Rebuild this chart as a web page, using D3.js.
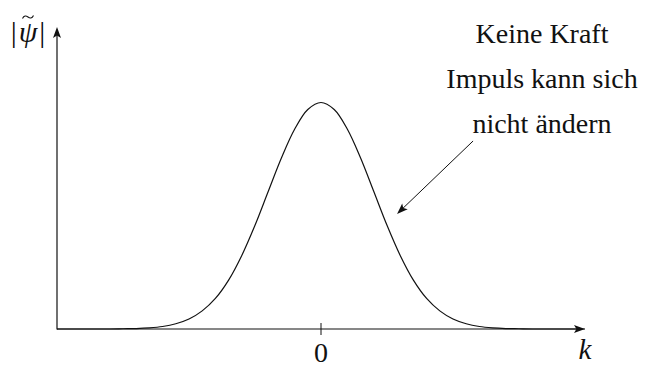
<!DOCTYPE html>
<html>
<head>
<meta charset="utf-8">
<script src="https://cdn.jsdelivr.net/npm/d3@7"></script>
<style>
  html, body { margin: 0; padding: 0; background: #fff; }
  svg { display: block; }
</style>
</head>
<body>
<svg id="chart" width="653" height="369"></svg>
<script>
// Momentum-space amplitude |psi~(k)| sampled along k
const kValues = [-5, -4.75, -4.5, -4.25, -4, -3.75, -3.5, -3.25, -3, -2.75, -2.5, -2.25, -2, -1.75, -1.5, -1.25, -1, -0.75, -0.5, -0.25,
                 0, 0.25, 0.5, 0.75, 1, 1.25, 1.5, 1.75, 2, 2.25, 2.5, 2.75, 3, 3.25, 3.5, 3.75, 4, 4.25, 4.5, 4.75, 5];
const amplitude = [0.000, 0.000, 0.000, 0.000, 0.000, 0.001, 0.002, 0.005, 0.011, 0.023, 0.044, 0.080, 0.135, 0.216, 0.325, 0.458, 0.607, 0.755, 0.882, 0.969,
                   1.000, 0.969, 0.882, 0.755, 0.607, 0.458, 0.325, 0.216, 0.135, 0.080, 0.044, 0.023, 0.011, 0.005, 0.002, 0.001, 0.000, 0.000, 0.000, 0.000, 0.000];
const tickValues = [0];
const tickLabels = ["0"];
const noteLines = ["Keine Kraft", "Impuls kann sich", "nicht ändern"];
// annotation arrow, in data units: [k, amplitude]
const arrowFrom = [2.88, 0.83];
const arrowTo = [1.44, 0.508];

const SERIF = "Liberation Serif";
const INK = "#111";

const svg = d3.select("#chart");
const x = d3.scaleLinear().domain([-5, 5]).range([57, 585]);
const y = d3.scaleLinear().domain([0, 4 / 3]).range([329, 27]);

function arrowHead(g, tipX, tipY, angle, len, half) {
  g.append("path")
    .attr("d", `M0,0 L${-len},${-half} L${-len * 0.78},0 L${-len},${half} Z`)
    .attr("transform", `translate(${tipX},${tipY}) rotate(${angle})`)
    .attr("fill", INK);
}

const axes = svg.append("g");
// horizontal k axis
axes.append("line")
  .attr("x1", x(-5)).attr("x2", x(5) - 6)
  .attr("y1", y(0)).attr("y2", y(0))
  .attr("stroke", INK).attr("stroke-width", 1.2);
arrowHead(axes, x(5), y(0), 0, 11, 4);
// vertical amplitude axis
axes.append("line")
  .attr("x1", x(-5)).attr("x2", x(-5))
  .attr("y1", y(0) + 0.6).attr("y2", y(4 / 3) + 6)
  .attr("stroke", INK).attr("stroke-width", 1.2);
arrowHead(axes, x(-5), y(4 / 3), -90, 11, 4);

// ticks
const ticks = svg.append("g");
tickValues.forEach((t, i) => {
  ticks.append("line")
    .attr("x1", x(t)).attr("x2", x(t))
    .attr("y1", y(0) - 6).attr("y2", y(0) + 6)
    .attr("stroke", INK).attr("stroke-width", 1);
  ticks.append("text")
    .attr("font-family", SERIF).attr("font-size", 28).attr("fill", INK)
    .attr("x", x(t)).attr("y", 362)
    .attr("text-anchor", "middle")
    .text(tickLabels[i]);
});

// axis labels
svg.append("text")
  .attr("font-family", SERIF).attr("font-style", "italic").attr("font-size", 29).attr("fill", INK)
  .attr("x", x(5)).attr("y", 359)
  .attr("text-anchor", "middle")
  .text("k");

const yLabel = svg.append("text")
  .attr("font-family", SERIF).attr("font-size", 30).attr("fill", INK)
  .attr("x", 28).attr("y", 42)
  .attr("text-anchor", "middle");
yLabel.append("tspan").text("|");
yLabel.append("tspan").attr("font-style", "italic").attr("dx", 2).text("ψ");
yLabel.append("tspan").attr("dx", 2).text("|");
// tilde accent over psi
svg.append("path")
  .attr("d", "M22.5,18.5 C24,15.5 26,15.5 28,17 C30,18.5 32,18.5 33.5,15.5")
  .attr("fill", "none").attr("stroke", INK).attr("stroke-width", 1.1);

// the amplitude curve
const line = d3.line()
  .x((d, i) => x(kValues[i]))
  .y(d => y(d))
  .curve(d3.curveCatmullRom.alpha(0.5));
svg.append("path")
  .datum(amplitude)
  .attr("d", line)
  .attr("fill", "none")
  .attr("stroke", INK)
  .attr("stroke-width", 1.2);

// annotation text
const note = svg.append("g");
noteLines.forEach((s, i) => {
  note.append("text")
    .attr("font-family", SERIF).attr("font-size", 28).attr("fill", INK)
    .attr("x", 542).attr("y", 43 + i * 45)
    .attr("text-anchor", "middle")
    .text(s);
});

// annotation arrow
const ax1 = x(arrowFrom[0]), ay1 = y(arrowFrom[1]);
const ax2 = x(arrowTo[0]), ay2 = y(arrowTo[1]);
const ang = Math.atan2(ay2 - ay1, ax2 - ax1) * 180 / Math.PI;
const dl = Math.hypot(ax2 - ax1, ay2 - ay1);
svg.append("line")
  .attr("x1", ax1).attr("y1", ay1)
  .attr("x2", ax1 + (ax2 - ax1) * (dl - 6) / dl)
  .attr("y2", ay1 + (ay2 - ay1) * (dl - 6) / dl)
  .attr("stroke", INK).attr("stroke-width", 1);
arrowHead(svg, ax2, ay2, ang, 11, 4);
</script>
</body>
</html>
